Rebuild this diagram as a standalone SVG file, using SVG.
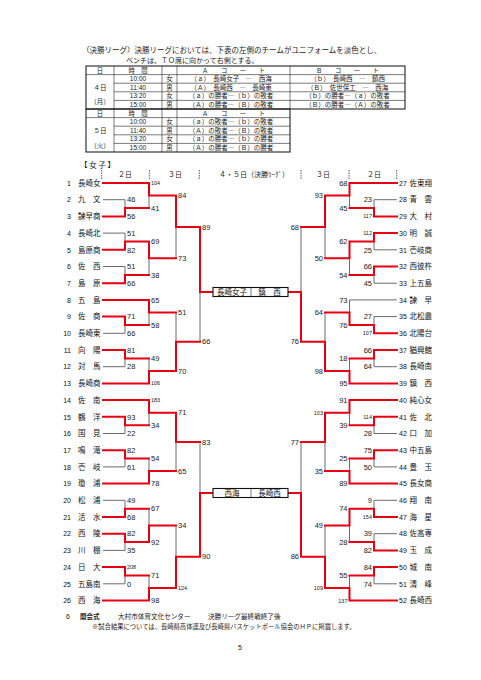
<svg xmlns="http://www.w3.org/2000/svg" width="481" height="680" viewBox="0 0 481 680">
<style>
.jp{font-family:"Noto Sans CJK JP","Noto Sans",sans-serif;fill:#1a1a1a}
.hd{font-size:7.5px}
.tb{font-size:6.5px}
.th{font-size:6.3px}
.tc{text-anchor:middle}
.lat{font-family:"Liberation Sans",Arial,sans-serif;fill:#1a1a1a}
.nm{font-family:"Noto Sans CJK JP",sans-serif;font-size:7.5px;fill:#111}
.no{font-family:"Liberation Sans",Arial,sans-serif;font-size:7px;fill:#111}
.sc{font-family:"Liberation Sans",Arial,sans-serif;font-size:7.5px;fill:#222}
.sm{font-size:5.5px}
.e{text-anchor:end}
.r{stroke:#e60012;stroke-width:2;fill:none;stroke-linecap:square}
.g{stroke:#6b6b6b;stroke-width:1;fill:none}
.tl{stroke:#222;stroke-width:0.6;fill:none}
.tk{stroke:#222;stroke-width:1.1;fill:none}
.tick{stroke:#333;stroke-width:0.8;stroke-dasharray:1.5 1}
.box{fill:#fff;stroke:#111;stroke-width:1.1}
</style>

<g id="intro">
<text class="jp hd" x="82" y="52.6">（決勝リーグ）決勝リーグにおいては、下表の左側のチームがユニフォームを淡色とし、</text>
<text class="jp" font-size="7" x="126" y="63">ベンチは、ＴＯ席に向かって右側とする。</text>
</g>

<g id="schedule-table">
<rect class="tk" x="86" y="66" width="319" height="43"/>
<path class="tl" d="M114 66V109M162 66V109M177 66V109M290 66V109M86 74.6H405M114 83.2H405M114 91.8H405M114 100.4H405"/>
<rect class="tk" x="86" y="109" width="204" height="43"/>
<path class="tl" d="M114 109V152M162 109V152M177 109V152M86 117.6H290M114 126.2H290M114 134.8H290M114 143.4H290"/>
<g class="jp th tc">
<text x="100" y="72.5">日</text><text x="138" y="72.5">時　間</text><text x="233.5" y="72.5">Ａ　　コ　　ー　　ト</text><text x="347.5" y="72.5">Ｂ　　コ　　ー　　ト</text>
<text x="100" y="115.5">日</text><text x="138" y="115.5">時　間</text><text x="233.5" y="115.5">Ａ　　コ　　ー　　ト</text>
</g>
<g class="jp tb tc">
<text x="100" y="89.5">４日</text><text x="100" y="103.5">（月）</text>
<text x="169.5" y="81.2">女</text><text x="169.5" y="89.8">男</text><text x="169.5" y="98.4">女</text><text x="169.5" y="107">男</text>
<text x="231" y="81.2">（ａ）　長崎女子　―　西海</text>
<text x="231" y="89.8">（Ａ）　長崎西　―　長崎東</text>
<text x="231" y="98.4">（ａ）の勝者―（ｂ）の敗者</text>
<text x="231" y="107">（Ａ）の勝者―（Ｂ）の敗者</text>
<text x="347.5" y="81.2">（ｂ）　長崎西　―　鎮西</text>
<text x="347.5" y="89.8">（Ｂ）　佐世保工　―　西海</text>
<text x="347.5" y="98.4">（ｂ）の勝者―（ａ）の敗者</text>
<text x="347.5" y="107">（Ｂ）の勝者―（Ａ）の敗者</text>
<text x="100" y="132.5">５日</text><text x="100" y="147.5">（火）</text>
<text x="169.5" y="124.2">女</text><text x="169.5" y="132.8">男</text><text x="169.5" y="141.4">女</text><text x="169.5" y="150">男</text>
<text x="231" y="124.2">（ａ）の敗者―（ｂ）の敗者</text>
<text x="231" y="132.8">（Ａ）の敗者―（Ｂ）の敗者</text>
<text x="231" y="141.4">（ａ）の勝者―（ｂ）の勝者</text>
<text x="231" y="150">（Ａ）の勝者―（Ｂ）の勝者</text>
</g>
<g class="lat tc" font-size="6.5">
<text x="138" y="81.2">10:00</text><text x="138" y="89.8">11:40</text><text x="138" y="98.4">13:20</text><text x="138" y="107">15:00</text>
<text x="138" y="124.2">10:00</text><text x="138" y="132.8">11:40</text><text x="138" y="141.4">13:20</text><text x="138" y="150">15:00</text>
</g>
</g>

<g id="bracket-header">
<text class="jp hd" x="80" y="167.7">【 女 子 】</text>
<path class="tick" d="M101.7 170V179M149.3 170V179M199.3 170V179M301 170V179M349 170V179M396.7 170V179"/>
<g class="jp tc" font-size="7">
<text x="125" y="177">２日</text><text x="175" y="177">３日</text>
<text x="254" y="177">４・５日（決勝ﾘｰｸﾞ）</text>
<text x="323" y="177">３日</text><text x="374" y="177">２日</text>
</g>
</g>

<g id="connectors">
<path class="g" d="M103 199.7H125M103 233.1H125M103 266.5H125M103 333.3H125M103 366.7H125M103 433.5H125M103 466.9H125M103 500.3H125M103 550.4H125M103 583.8H125
M125 199.7V208.1M125 233.1V241.5M125 266.5V274.9M125 325V333.3M125 358.4V366.7M125 425.2V433.5M125 458.6V466.9M125 500.3V508.7M125 542.1V550.4M125 575.5V583.8
M149 195.6V208.1M149 258.2V274.9M149 312.5V325M149 358.4V370.9M149 412.7V425.2M149 458.6V471.1M149 508.7V525.4M149 575.5V588
M176 226.9V258.2M176 312.5V341.7M176 441.9V471.1M176 525.4V556.7
M200 292V341.7M200 441.9V493
M374 199.7H397M374 249.8H397M374 283.2H397M374 316.6H397M374 366.7H397M374 433.5H397M374 466.9H397M374 500.3H397M374 533.7H397M374 583.8H397
M349.5 299.9H397
M374 199.7V208.1M374 241.5V249.8M374 274.9V283.2M374 316.6V325M374 358.4V366.7M374 425.2V433.5M374 458.6V466.9M374 500.3V508.7M374 533.7V542.1M374 575.5V583.8
M349.5 195.6V208.1M349.5 258.2V274.9M349.5 299.9V312.5M349.5 358.4V370.9M349.5 412.7V425.2M349.5 458.6V471.1M349.5 525.4V542.1M349.5 575.5V588
M325 226.9V258.2M325 312.5V341.7M325 441.9V471.1M325 525.4V556.7
M301 226.9V292M301 441.9V493"/>
<path class="r" d="M103 216.4H125M103 249.8H125M103 283.2H125M103 316.6H125M103 350H125M103 416.8H125M103 450.2H125M103 517H125M103 533.7H125M103 567.1H125
M103 183H149M103 299.9H149M103 383.4H149M103 400.1H149M103 483.6H149M103 600.5H149
M125 208.1V216.4M125 241.5V249.8M125 274.9V283.2M125 316.6V325M125 350V358.4M125 416.8V425.2M125 450.2V458.6M125 508.7V517M125 533.7V542.1M125 567.1V575.5
M125 208.1H149M125 241.5H149M125 274.9H149M125 325H149M125 358.4H149M125 425.2H149M125 458.6H149M125 508.7H149M125 542.1H149M125 575.5H149
M149 183V195.6M149 241.5V258.2M149 299.9V312.5M149 370.9V383.4M149 400.1V412.7M149 471.1V483.6M149 525.4V542.1M149 588V600.5
M149 195.6H176M149 258.2H176M149 312.5H176M149 370.9H176M149 412.7H176M149 471.1H176M149 525.4H176M149 588H176
M176 195.6V226.9M176 341.7V370.9M176 412.7V441.9M176 556.7V588
M176 226.9H200M176 341.7H200M176 441.9H200M176 556.7H200
M200 226.9V292H213M213 493H200V556.7
M374 216.4H397M374 233.1H397M374 266.5H397M374 333.3H397M374 350H397M374 416.8H397M374 450.2H397M374 517H397M374 550.4H397M374 567.1H397
M349.5 183H397M349.5 383.4H397M349.5 400.1H397M349.5 483.6H397M349.5 600.5H397
M374 208.1V216.4M374 233.1V241.5M374 266.5V274.9M374 325V333.3M374 350V358.4M374 416.8V425.2M374 450.2V458.6M374 508.7V517M374 542.1V550.4M374 567.1V575.5
M349.5 208.1H374M349.5 241.5H374M349.5 274.9H374M349.5 325H374M349.5 358.4H374M349.5 425.2H374M349.5 458.6H374M349.5 508.7H374M349.5 542.1H374M349.5 575.5H374
M349.5 183V195.6M349.5 241.5V258.2M349.5 312.5V325M349.5 370.9V383.4M349.5 400.1V412.7M349.5 471.1V483.6M349.5 508.7V525.4M349.5 588V600.5
M325 195.6H349.5M325 258.2H349.5M325 312.5H349.5M325 370.9H349.5M325 412.7H349.5M325 471.1H349.5M325 525.4H349.5M325 588H349.5
M325 195.6V226.9M325 341.7V370.9M325 412.7V441.9M325 556.7V588
M301 226.9H325M301 341.7H325M301 441.9H325M301 556.7H325
M288 292H301V341.7M288 493H301V556.7"/>
</g>

<g id="scores-left" class="sc">
<text x="127" y="202.4">46</text><text x="127" y="219.1">56</text><text x="127" y="235.8">51</text><text x="127" y="252.5">82</text><text x="127" y="269.2">51</text><text x="127" y="285.9">66</text><text x="127" y="319.3">71</text><text x="127" y="336">66</text><text x="127" y="352.7">81</text><text x="127" y="369.4">28</text><text x="127" y="419.5">93</text><text x="127" y="436.2">22</text><text x="127" y="452.9">82</text><text x="127" y="469.6">61</text><text x="127" y="503">49</text><text x="127" y="519.7">68</text><text x="127" y="536.4">82</text><text x="127" y="553.1">35</text><text class="sm" x="127" y="569.1">208</text><text x="127" y="586.5">0</text>
<text class="sm" x="151" y="184.5">104</text><text x="151" y="210.8">41</text><text x="151" y="244.2">69</text><text x="151" y="277.6">38</text><text x="151" y="302.6">65</text><text x="151" y="327.7">58</text><text x="151" y="361.1">49</text><text class="sm" x="151" y="385.4">106</text><text class="sm" x="151" y="402.1">183</text><text x="151" y="427.9">34</text><text x="151" y="461.3">54</text><text x="151" y="486.3">78</text><text x="151" y="511.4">67</text><text x="151" y="544.8">92</text><text x="151" y="578.2">71</text><text x="151" y="603.2">98</text>
<text x="178" y="198.3">84</text><text x="178" y="260.9">73</text><text x="178" y="315.2">51</text><text x="178" y="373.6">70</text><text x="178" y="415.4">71</text><text x="178" y="473.8">65</text><text x="178" y="528.1">34</text><text class="sm" x="178" y="590">124</text>
<text x="202" y="229.6">89</text><text x="202" y="344.4">66</text><text x="202" y="444.6">83</text><text x="202" y="559.4">90</text>
</g>

<g id="scores-right" class="sc e">
<text x="372" y="202.4">23</text><text class="sm" x="372" y="218.4">117</text><text class="sm" x="372" y="235.1">112</text><text x="372" y="252.5">25</text><text x="372" y="269.2">66</text><text x="372" y="285.9">45</text><text x="372" y="319.3">27</text><text class="sm" x="372" y="335.3">107</text><text x="372" y="352.7">66</text><text x="372" y="369.4">64</text><text class="sm" x="372" y="418.8">114</text><text x="372" y="436.2">28</text><text x="372" y="452.9">75</text><text x="372" y="469.6">50</text><text x="372" y="503">9</text><text class="sm" x="372" y="519">154</text><text x="372" y="536.4">39</text><text x="372" y="553.1">82</text><text x="372" y="569.8">84</text><text x="372" y="586.5">74</text>
<text x="347.5" y="185.7">68</text><text x="347.5" y="210.8">45</text><text x="347.5" y="244.2">62</text><text x="347.5" y="277.6">54</text><text x="347.5" y="302.6">73</text><text x="347.5" y="327.7">76</text><text x="347.5" y="361.1">18</text><text x="347.5" y="386.1">95</text><text x="347.5" y="402.8">91</text><text x="347.5" y="427.9">39</text><text x="347.5" y="461.3">25</text><text x="347.5" y="486.3">89</text><text x="347.5" y="511.4">74</text><text x="347.5" y="544.8">28</text><text x="347.5" y="578.2">55</text><text class="sm" x="347.5" y="602.5">137</text>
<text x="323" y="198.3">93</text><text x="323" y="260.9">50</text><text x="323" y="315.2">64</text><text x="323" y="373.6">98</text><text class="sm" x="323" y="414.7">103</text><text x="323" y="473.8">35</text><text x="323" y="528.1">49</text><text class="sm" x="323" y="590">109</text>
<text x="299" y="229.6">68</text><text x="299" y="344.4">76</text><text x="299" y="444.6">77</text><text x="299" y="559.4">86</text>
</g>

<g id="teams-left">
<g id="t1"><text class="no e" x="71" y="185.7">1</text><text class="nm" x="78" y="185.7">長崎女</text></g>
<g id="t2"><text class="no e" x="71" y="202.4">2</text><text class="nm" x="78" y="202.4">九　文</text></g>
<g id="t3"><text class="no e" x="71" y="219.1">3</text><text class="nm" x="78" y="219.1">諫早商</text></g>
<g id="t4"><text class="no e" x="71" y="235.8">4</text><text class="nm" x="78" y="235.8">長崎北</text></g>
<g id="t5"><text class="no e" x="71" y="252.5">5</text><text class="nm" x="78" y="252.5">島原商</text></g>
<g id="t6"><text class="no e" x="71" y="269.2">6</text><text class="nm" x="78" y="269.2">佐　西</text></g>
<g id="t7"><text class="no e" x="71" y="285.9">7</text><text class="nm" x="78" y="285.9">島　原</text></g>
<g id="t8"><text class="no e" x="71" y="302.6">8</text><text class="nm" x="78" y="302.6">五　島</text></g>
<g id="t9"><text class="no e" x="71" y="319.3">9</text><text class="nm" x="78" y="319.3">佐　商</text></g>
<g id="t10"><text class="no e" x="71" y="336">10</text><text class="nm" x="78" y="336">長崎東</text></g>
<g id="t11"><text class="no e" x="71" y="352.7">11</text><text class="nm" x="78" y="352.7">向　陽</text></g>
<g id="t12"><text class="no e" x="71" y="369.4">12</text><text class="nm" x="78" y="369.4">対　馬</text></g>
<g id="t13"><text class="no e" x="71" y="386.1">13</text><text class="nm" x="78" y="386.1">長崎商</text></g>
<g id="t14"><text class="no e" x="71" y="402.8">14</text><text class="nm" x="78" y="402.8">佐　南</text></g>
<g id="t15"><text class="no e" x="71" y="419.5">15</text><text class="nm" x="78" y="419.5">鶴　洋</text></g>
<g id="t16"><text class="no e" x="71" y="436.2">16</text><text class="nm" x="78" y="436.2">国　見</text></g>
<g id="t17"><text class="no e" x="71" y="452.9">17</text><text class="nm" x="78" y="452.9">鳴　滝</text></g>
<g id="t18"><text class="no e" x="71" y="469.6">18</text><text class="nm" x="78" y="469.6">壱　岐</text></g>
<g id="t19"><text class="no e" x="71" y="486.3">19</text><text class="nm" x="78" y="486.3">瓊　浦</text></g>
<g id="t20"><text class="no e" x="71" y="503">20</text><text class="nm" x="78" y="503">松　浦</text></g>
<g id="t21"><text class="no e" x="71" y="519.7">21</text><text class="nm" x="78" y="519.7">活　水</text></g>
<g id="t22"><text class="no e" x="71" y="536.4">22</text><text class="nm" x="78" y="536.4">西　陵</text></g>
<g id="t23"><text class="no e" x="71" y="553.1">23</text><text class="nm" x="78" y="553.1">川　棚</text></g>
<g id="t24"><text class="no e" x="71" y="569.8">24</text><text class="nm" x="78" y="569.8">日　大</text></g>
<g id="t25"><text class="no e" x="71" y="586.5">25</text><text class="nm" x="78" y="586.5">五島南</text></g>
<g id="t26"><text class="no e" x="71" y="603.2">26</text><text class="nm" x="78" y="603.2">西　海</text></g>
</g>

<g id="teams-right">
<g id="t27"><text class="no" x="399" y="185.7">27</text><text class="nm" x="409.5" y="185.7">佐東翔</text></g>
<g id="t28"><text class="no" x="399" y="202.4">28</text><text class="nm" x="409.5" y="202.4">青　雲</text></g>
<g id="t29"><text class="no" x="399" y="219.1">29</text><text class="nm" x="409.5" y="219.1">大　村</text></g>
<g id="t30"><text class="no" x="399" y="235.8">30</text><text class="nm" x="409.5" y="235.8">明　誠</text></g>
<g id="t31"><text class="no" x="399" y="252.5">31</text><text class="nm" x="409.5" y="252.5">壱岐商</text></g>
<g id="t32"><text class="no" x="399" y="269.2">32</text><text class="nm" x="409.5" y="269.2">西彼杵</text></g>
<g id="t33"><text class="no" x="399" y="285.9">33</text><text class="nm" x="409.5" y="285.9">上五島</text></g>
<g id="t34"><text class="no" x="399" y="302.6">34</text><text class="nm" x="409.5" y="302.6">諫　早</text></g>
<g id="t35"><text class="no" x="399" y="319.3">35</text><text class="nm" x="409.5" y="319.3">北松農</text></g>
<g id="t36"><text class="no" x="399" y="336">36</text><text class="nm" x="409.5" y="336">北陽台</text></g>
<g id="t37"><text class="no" x="399" y="352.7">37</text><text class="nm" x="409.5" y="352.7">猶興館</text></g>
<g id="t38"><text class="no" x="399" y="369.4">38</text><text class="nm" x="409.5" y="369.4">長崎南</text></g>
<g id="t39"><text class="no" x="399" y="386.1">39</text><text class="nm" x="409.5" y="386.1">鎮　西</text></g>
<g id="t40"><text class="no" x="399" y="402.8">40</text><text class="nm" x="409.5" y="402.8">純心女</text></g>
<g id="t41"><text class="no" x="399" y="419.5">41</text><text class="nm" x="409.5" y="419.5">佐　北</text></g>
<g id="t42"><text class="no" x="399" y="436.2">42</text><text class="nm" x="409.5" y="436.2">口　加</text></g>
<g id="t43"><text class="no" x="399" y="452.9">43</text><text class="nm" x="409.5" y="452.9">中五島</text></g>
<g id="t44"><text class="no" x="399" y="469.6">44</text><text class="nm" x="409.5" y="469.6">豊　玉</text></g>
<g id="t45"><text class="no" x="399" y="486.3">45</text><text class="nm" x="409.5" y="486.3">長女商</text></g>
<g id="t46"><text class="no" x="399" y="503">46</text><text class="nm" x="409.5" y="503">翔　南</text></g>
<g id="t47"><text class="no" x="399" y="519.7">47</text><text class="nm" x="409.5" y="519.7">海　星</text></g>
<g id="t48"><text class="no" x="399" y="536.4">48</text><text class="nm" x="409.5" y="536.4">佐高専</text></g>
<g id="t49"><text class="no" x="399" y="553.1">49</text><text class="nm" x="409.5" y="553.1">玉　成</text></g>
<g id="t50"><text class="no" x="399" y="569.8">50</text><text class="nm" x="409.5" y="569.8">城　南</text></g>
<g id="t51"><text class="no" x="399" y="586.5">51</text><text class="nm" x="409.5" y="586.5">清　峰</text></g>
<g id="t52"><text class="no" x="399" y="603.2">52</text><text class="nm" x="409.5" y="603.2">長崎西</text></g>
</g>

<g id="final-league-a">
<rect class="box" x="213" y="287.5" width="75" height="9"/>
<path class="tl" d="M251 287.5V296.5"/>
<text class="nm tc" x="232" y="294.7" font-size="7">長崎女子</text>
<text class="nm tc" x="269.5" y="294.7" font-size="7">鎮　西</text>
</g>
<g id="final-league-b">
<rect class="box" x="213" y="488.5" width="75" height="9"/>
<path class="tl" d="M251 488.5V497.5"/>
<text class="nm tc" x="232" y="495.7" font-size="7">西海</text>
<text class="nm tc" x="269.5" y="495.7" font-size="7">長崎西</text>
</g>

<g id="footer">
<text class="lat" x="66" y="619" font-size="7">6</text>
<text class="jp" x="80" y="619" font-size="6.5" font-weight="bold">開会式</text>
<text class="jp" x="118" y="619" font-size="6.6">大村市体育文化センター</text>
<text class="jp" x="208" y="619" font-size="6.6">決勝リーグ最終戦終了後</text>
<text class="jp" x="92" y="629" font-size="6.3">※試合結果については、長崎県高体連及び長崎県バスケットボール協会のＨＰに掲載します。</text>
<text class="lat tc" x="240" y="650" font-size="7">5</text>
</g>
</svg>
